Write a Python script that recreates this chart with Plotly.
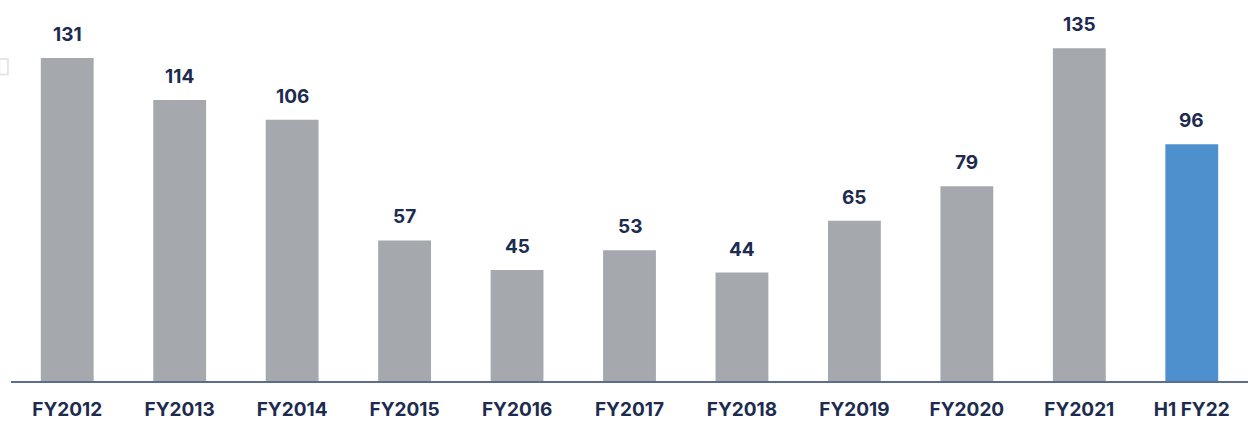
import plotly.graph_objects as go

categories = ["FY2012", "FY2013", "FY2014", "FY2015", "FY2016", "FY2017",
              "FY2018", "FY2019", "FY2020", "FY2021", "H1 FY22"]
values = [131, 114, 106, 57, 45, 53, 44, 65, 79, 135, 96]
grey = "#a5a9ad"
blue = "#4e8fcd"
colors = [grey] * 10 + [blue]
navy = "#1d2b4f"

fig = go.Figure()
fig.add_trace(go.Bar(x=categories, y=values, marker=dict(color=colors, line=dict(width=0)),
                     width=0.47, hoverinfo="x+y"))

for c, v in zip(categories, values):
    fig.add_annotation(x=c, y=v, text=f"<b>{v}</b>", showarrow=False,
                       yanchor="bottom", yshift=10,
                       font=dict(family="Inter, Roboto, sans-serif", size=19, color=navy))

fig.add_shape(type="rect", xref="paper", yref="paper", x0=-0.0095, x1=-0.0025, y0=0.826, y1=0.868,
              line=dict(color="#e6e6e6", width=2), fillcolor="white", layer="above")

fig.update_layout(
    width=1250, height=421,
    margin=dict(l=11, r=2, t=10, b=40),
    plot_bgcolor="white", paper_bgcolor="white",
    showlegend=False,
    xaxis=dict(showgrid=False, showline=True, linecolor="#5b6e8f", linewidth=2,
               automargin=False,
               tickfont=dict(family="Inter, Roboto, sans-serif", size=19, color=navy),
               ticks="outside", ticklen=10, tickcolor="rgba(0,0,0,0)",
               tickprefix="<b>", ticksuffix="</b>"),
    yaxis=dict(range=[0, 150.5], visible=False, showgrid=False, zeroline=False, automargin=False),
)
fig.write_html("out.html", config={"displayModeBar": False},
               post_script="document.body.style.margin='0';document.body.style.overflow='hidden';")
